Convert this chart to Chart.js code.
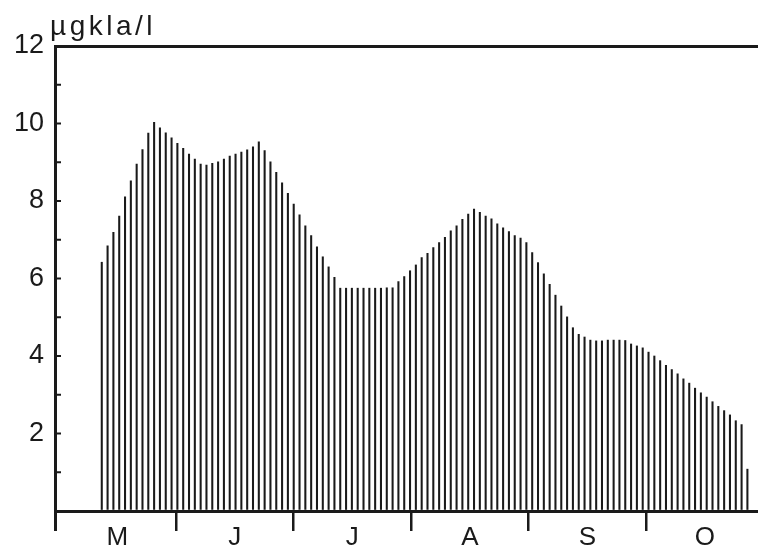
<!DOCTYPE html>
<html>
<head>
<meta charset="utf-8">
<script src="https://cdn.jsdelivr.net/npm/chart.js@4.4.1/dist/chart.umd.min.js"></script>
<style>
  html, body { margin: 0; padding: 0; background: #fff; overflow: hidden; }
</style>
</head>
<body>
<canvas id="chl-chart" width="790" height="546"></canvas>
<script>
const monthLabels = ['M', 'J', 'J', 'A', 'S', 'O'];
const yTickLabels = [2, 4, 6, 8, 10, 12];
const unitLabel = 'µgkla/l';

// sample positions, in months counted from 1 May
const firstSample = 0.368;
const sampleStep = 0.0495;

// chlorophyll a, µg/l, one value per hatch line
const chlValues = [
  6.42, 6.84, 7.19, 7.61, 8.11, 8.52, 8.95, 9.33, 9.75, 10.03,
  9.89, 9.76, 9.63, 9.49, 9.36, 9.21, 9.08, 8.95, 8.93, 8.97,
  9.01, 9.08, 9.16, 9.21, 9.26, 9.32, 9.40, 9.53, 9.30, 9.01,
  8.74, 8.47, 8.20, 7.92, 7.64, 7.36, 7.11, 6.82, 6.56, 6.30,
  6.03, 5.75, 5.75, 5.75, 5.75, 5.75, 5.75, 5.75, 5.75, 5.76,
  5.76, 5.92, 6.05, 6.20, 6.35, 6.54, 6.65, 6.80, 6.93, 7.06,
  7.23, 7.36, 7.53, 7.66, 7.79, 7.71, 7.61, 7.54, 7.41, 7.31,
  7.21, 7.11, 7.04, 6.93, 6.67, 6.41, 6.12, 5.85, 5.57, 5.29,
  5.01, 4.73, 4.56, 4.49, 4.41, 4.39, 4.39, 4.41, 4.41, 4.41,
  4.40, 4.31, 4.26, 4.21, 4.10, 4.00, 3.88, 3.76, 3.65, 3.54,
  3.41, 3.30, 3.17, 3.05, 2.94, 2.82, 2.70, 2.59, 2.48, 2.33,
  2.23, 1.08
];

const ink = '#1a1a1a';
const face = "'Liberation Sans', Arimo, sans-serif";
const xMin = -0.03;
const xMax = 6.225;

const isBoundary = v => v === xMin || (v > 0.5 && Math.abs(v - Math.round(v)) < 1e-6);

// inner tick marks on the y axis and the unit label above it
const extras = {
  id: 'extras',
  afterDraw(chart) {
    const { ctx, chartArea, scales } = chart;
    ctx.save();
    ctx.strokeStyle = ink;
    ctx.lineWidth = 2;
    for (let v = 1; v < 12; v++) {
      const y = scales.y.getPixelForValue(v);
      ctx.beginPath();
      ctx.moveTo(chartArea.left, y);
      ctx.lineTo(chartArea.left + 6, y);
      ctx.stroke();
    }
    ctx.fillStyle = ink;
    ctx.font = '28px ' + face;
    ctx.letterSpacing = '3.5px';
    ctx.textBaseline = 'alphabetic';
    ctx.fillText(unitLabel, chartArea.left - 5, chartArea.top - 11);
    ctx.restore();
  }
};

new Chart(document.getElementById('chl-chart'), {
  type: 'bar',
  data: {
    datasets: [{
      data: chlValues.map((v, i) => ({ x: firstSample + i * sampleStep, y: v })),
      backgroundColor: ink,
      borderWidth: 0,
      barThickness: 1.4
    }]
  },
  options: {
    responsive: false,
    animation: false,
    layout: { padding: { top: 46, left: 0, right: 0, bottom: 0 } },
    plugins: { legend: { display: false }, tooltip: { enabled: false } },
    scales: {
      x: {
        type: 'linear',
        offset: false,
        min: xMin,
        max: xMax,
        afterBuildTicks: scale => {
          const ticks = [{ value: xMin }];
          for (let m = 0; m < monthLabels.length; m++) {
            ticks.push({ value: m + 0.5 });
            if (m < monthLabels.length - 1) ticks.push({ value: m + 1 });
          }
          scale.ticks = ticks;
        },
        afterFit: scale => { scale.height = 35; },
        grid: {
          offset: false,
          drawOnChartArea: false,
          drawTicks: true,
          tickLength: 20,
          color: c => (c.tick && isBoundary(c.tick.value)) ? ink : 'rgba(0,0,0,0)',
          lineWidth: c => (c.tick && c.tick.value === xMin) ? 3 : 2.5
        },
        border: { display: true, color: ink, width: 3 },
        ticks: {
          autoSkip: false,
          maxRotation: 0,
          padding: -9,
          color: ink,
          font: { family: face, size: 26 },
          callback: v => {
            const k = v - 0.5;
            return Number.isInteger(Math.round(k * 1000) / 1000) && k >= 0 ? monthLabels[Math.round(k)] : '';
          }
        }
      },
      y: {
        min: 0,
        max: 12,
        afterFit: scale => { scale.width = 55; },
        grid: {
          drawOnChartArea: true,
          drawTicks: false,
          color: c => (c.tick && c.tick.value === 12) ? ink : 'rgba(0,0,0,0)',
          lineWidth: 3
        },
        border: { display: true, color: ink, width: 3 },
        ticks: {
          stepSize: 1,
          padding: 11,
          color: ink,
          font: { family: face, size: 27 },
          callback: v => yTickLabels.includes(v) ? String(v) : ''
        }
      }
    }
  },
  plugins: [extras]
});
</script>
</body>
</html>
